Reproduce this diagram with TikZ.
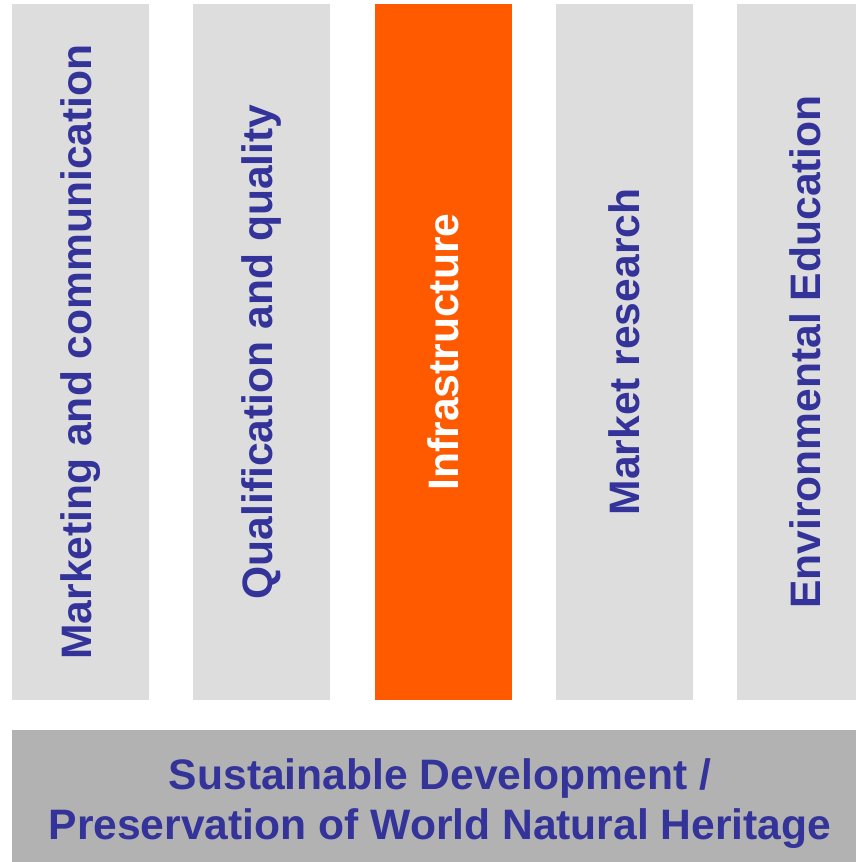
\documentclass[tikz,border=0pt]{standalone}
\usepackage{fontspec}
\setmainfont{Liberation Sans}
\usepackage{xcolor}
\usepackage{tikz}
\usetikzlibrary{positioning}
\definecolor{pillargrey}{RGB}{221, 221, 221}
\definecolor{basegrey}{RGB}{178, 178, 178}
\definecolor{infraorange}{RGB}{255, 90, 0}
\definecolor{themeblue}{RGB}{51, 51, 153}

\begin{document}
\begin{tikzpicture}[
        x=1pt, y=-1pt,
        font=\fontsize{42.6}{50}\selectfont\bfseries,
        text=themeblue,
        pillar/.style={fill=pillargrey, rotate=90, inner sep=0pt,
            minimum width=696pt, minimum height=137pt}
    ]
        \useasboundingbox (0,0) rectangle (856,862);
        \clip (0,0) rectangle (856,862);

        % Pillars
        \node[pillar] (marketing) at (80.5,352) {Marketing and communication};
        \node[pillar] (quality) at (261.5,352) {Qualification and quality};
        \node[pillar, fill=infraorange, text=white] (infra) at (443.5,352) {Infrastructure};
        \node[pillar] (research) at (624.5,352) {Market research};
        \node[pillar] (education) at (805.5,352) {Environmental Education};

        % Foundation
        \fill[basegrey] (12,730) rectangle (874,878);
        \node[inner sep=0pt, align=center] (base) at (440,804) {Sustainable Development /\\Preservation of World Natural Heritage};

    \end{tikzpicture}
\end{document}
